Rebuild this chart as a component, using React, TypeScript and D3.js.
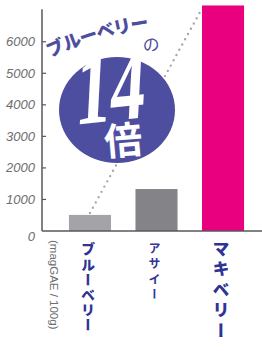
import React from "react";
import * as d3 from "d3";

// values (magGAE / 100g)
const categories = ["ブルーベリー", "アサイー", "マキベリー"];
const values = [510, 1330, 7150];
const barColors = ["#a4a4a8", "#848488", "#e8007f"];
const ticks = [0, 1000, 2000, 3000, 4000, 5000, 6000];
const unitLabel = "(magGAE / 100g)";
const badgeLead = "ブルーベリー";
const badgeOf = "の";
const badgeNumber = "14";
const badgeTimes = "倍";

const W = 262;
const H = 351;
const axisX = 42;
const blue = "#4e4ea0";
const labelBlue = "#2f3494";

const App: React.FC = () => {
	const x = d3
		.scaleBand<string>()
		.domain(categories)
		.range([45, 268])
		.paddingInner(0.368)
		.paddingOuter(0.36);

	const y = d3.scaleLinear().domain([0, 7000]).range([231, 10.2]);

	// dotted link: top of blueberry bar -> top-left of maqui bar
	const bx = (x(categories[0]) ?? 0) + x.bandwidth() / 2;
	const mx = x(categories[2]) ?? 0;
	const link = d3.line()([
		[bx, y(values[0]) - 2],
		[mx, y(values[2]) + 3],
	]);

	// label styles per category
	const labelStyle = [
		{ size: 14, spacing: 1.2, weight: 900 },
		{ size: 12, spacing: 3.5, weight: 700 },
		{ size: 17, spacing: 3.5, weight: 900 },
	];

	return (
		<svg
			width={W}
			height={H}
			style={{ position: "absolute", left: 0, top: 0, background: "#fff" }}
			fontFamily="'Noto Sans CJK JP', 'Noto Sans', sans-serif"
		>
			{/* dotted line behind everything */}
			<path
				d={link ?? ""}
				stroke="#a8a8ab"
				strokeWidth={2.4}
				strokeLinecap="round"
				strokeDasharray="0 6"
				fill="none"
			/>

			{/* bars */}
			{categories.map((c, i) => (
				<rect
					key={c}
					x={x(c)}
					y={y(values[i])}
					width={x.bandwidth()}
					height={y(0) - y(values[i])}
					fill={barColors[i]}
				/>
			))}

			{/* y axis */}
			<line x1={axisX} x2={axisX} y1={y(7000) - 1} y2={y(0)} stroke="#58585b" strokeWidth={1.5} />
			{ticks.map((t) => (
				<g key={t}>
					{t > 0 && (
						<line x1={axisX} x2={axisX + 4} y1={y(t)} y2={y(t)} stroke="#58585b" strokeWidth={1.2} />
					)}
					<text
						x={35}
						y={y(t) + (t === 0 ? 5 : 0)}
						textAnchor="end"
						dominantBaseline="central"
						fontFamily="'Liberation Sans', Arial, sans-serif"
						fontStyle="italic"
						fontSize={13}
						fill="#6d6e71"
					>
						{t}
					</text>
				</g>
			))}
			<line x1={axisX} x2={W} y1={y(0)} y2={y(0)} stroke="#58585b" strokeWidth={1.5} />

			{/* unit label, rotated */}
			<text
				transform="translate(50,240) rotate(90)"
				fontFamily="'Liberation Sans', Arial, sans-serif"
				fontSize={11.5}
				fill="#6d6e71"
			>
				{unitLabel}
			</text>

			{/* category labels, vertical */}
			{categories.map((c, i) => (
				<text
					key={c}
					x={(x(c) ?? 0) + x.bandwidth() / 2 - 2}
					y={i === 2 ? 240 : 242}
					style={{ writingMode: "vertical-rl" }}
					fontSize={labelStyle[i].size}
					fontWeight={labelStyle[i].weight}
					letterSpacing={labelStyle[i].spacing}
					fill={labelBlue}
				>
					{c}
				</text>
			))}

			{/* badge */}
			<defs>
				<path id="badgeArc" d="M 49 58 A 360 360 0 0 1 170 26" />
			</defs>
			<ellipse cx={117} cy={110} rx={58} ry={53} fill={blue} />
			<text fontSize={18} fontWeight={900} fill={blue} letterSpacing={-0.8}>
				<textPath href="#badgeArc" startOffset={1}>
					{badgeLead}
				</textPath>
			</text>
			<text
				x={151}
				y={51}
				textAnchor="middle"
				fontSize={17}
				fontWeight={400}
				fill={blue}
				transform="rotate(-8 151 45)"
			>
				{badgeOf}
			</text>
			<text
				transform="translate(109,121) rotate(-6) skewX(-9) scale(0.7,1)"
				textAnchor="middle"
				fontFamily="'Liberation Serif', 'DejaVu Serif', serif"
				fontWeight={700}
				fontSize={100}
				fill="#fff"
			>
				{badgeNumber}
			</text>
			<text
				transform="translate(123,138) rotate(-5)"
				textAnchor="middle"
				dominantBaseline="central"
				fontSize={38}
				fontWeight={700}
				fill="#fff"
			>
				{badgeTimes}
			</text>
		</svg>
	);
};

export default App;
